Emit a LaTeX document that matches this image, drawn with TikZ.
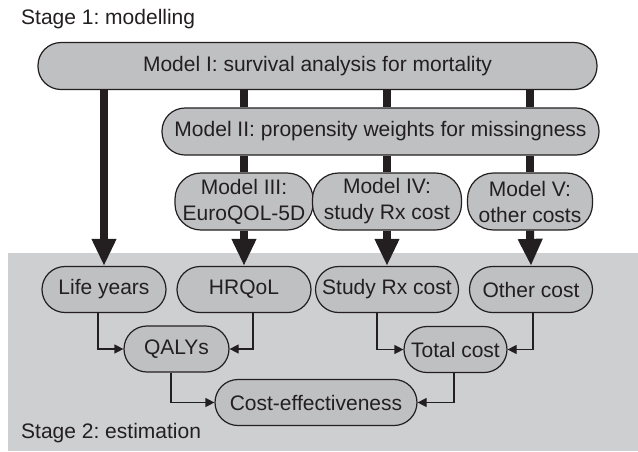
\documentclass[tikz,border=0pt]{standalone}
\usepackage{fontspec}
\setmainfont{Liberation Sans}
\usepackage{tikz}
\usetikzlibrary{arrows.meta}
\definecolor{boxgray}{RGB}{191,192,194}
\definecolor{stagegray}{RGB}{206,207,209}
\definecolor{ink}{RGB}{35,31,32}
\frenchspacing
\tikzset{
  box/.style    = {shape=rectangle, rounded corners=23pt, draw=ink,
                   line width=1.2pt, fill=boxgray, align=center,
                   inner xsep=1pt, text=ink,
                   font=\fontsize{21}{26}\selectfont},
  model/.style  = {box, minimum height=47pt},
  twoline/.style= {box, minimum height=57pt, rounded corners=26pt},
  est/.style    = {box, minimum height=46pt},
  label/.style  = {text=ink, font=\fontsize{21}{26}\selectfont, inner sep=0pt},
  pipe/.style   = {draw=ink, line width=8pt},
  feed/.style   = {pipe, -{Triangle[length=27pt,width=23pt]}},
  link/.style   = {draw=ink, line width=1.2pt, -{Triangle[length=9pt,width=9pt]}}
}
\begin{document}
\begin{tikzpicture}[x=1pt, y=-1pt]
  \useasboundingbox (0,0) rectangle (638,451);
  % stage 2 background
  \fill[stagegray] (8,253) rectangle (638,451);
  \node[label, anchor=base west] (s1) at (21,24) {Stage 1: modelling};
  \node[label, anchor=base west] (s2) at (21,438) {Stage 2: estimation};

  % stage 1: models
  \node[model, minimum width=559pt] (m1) at (317.5,66) {Model I: survival analysis for mortality};
  \node[model, minimum width=437pt] (m2) at (380.5,131.5) {Model II: propensity weights for missingness};
  \node[twoline, minimum width=138pt] (m3) at (244,201.5) {Model III:\\EuroQOL-5D};
  \node[twoline, minimum width=149pt] (m4) at (387,201.5) {Model IV:\\study Rx cost};
  \node[twoline, minimum width=125pt] (m5) at (530,201.5) {Model V:\\other costs};

  % stage 2: outcomes
  \node[est, minimum width=124pt] (life) at (104,289.5) {Life years};
  \node[est, minimum width=134pt] (hrq) at (244,289.5) {HRQoL};
  \node[est, minimum width=143pt] (rx) at (387,289.5) {Study Rx cost};
  \node[est, minimum width=123pt] (other) at (531,289.5) {Other cost};
  \node[est, minimum width=105pt] (qaly) at (176.5,349) {QALYs};
  \node[est, minimum width=103pt] (total) at (455.5,349.5) {Total cost};
  \node[est, minimum width=202pt] (ce) at (316,402.5) {Cost-effectiveness};

  % thick links between models
  \foreach \m in {m3,m4,m5} {
    \draw[pipe] (\m.north |- m1.south) -- (\m.north |- m2.north);
    \draw[pipe] (\m.north |- m2.south) -- (\m.north);
  }
  \draw[feed] (life.north |- m1.south) -- (life.north);
  \draw[feed] (m3.south) -- (hrq.north);
  \draw[feed] (m4.south) -- (rx.north);
  \draw[feed] (m5.south) -- (other.north);

  % thin links
  \draw[link] ([xshift=-6pt]life.south) |- (qaly.west);
  \draw[link] ([xshift=9pt]hrq.south) |- (qaly.east);
  \draw[link] ([xshift=-5.5pt]qaly.south) |- (ce.west);
  \draw[link] ([xshift=-10pt]rx.south) |- (total.west);
  \draw[link] ([xshift=2pt]other.south) |- (total.east);
  \draw[link] ([xshift=-1.5pt]total.south) |- (ce.east);
\end{tikzpicture}
\end{document}
